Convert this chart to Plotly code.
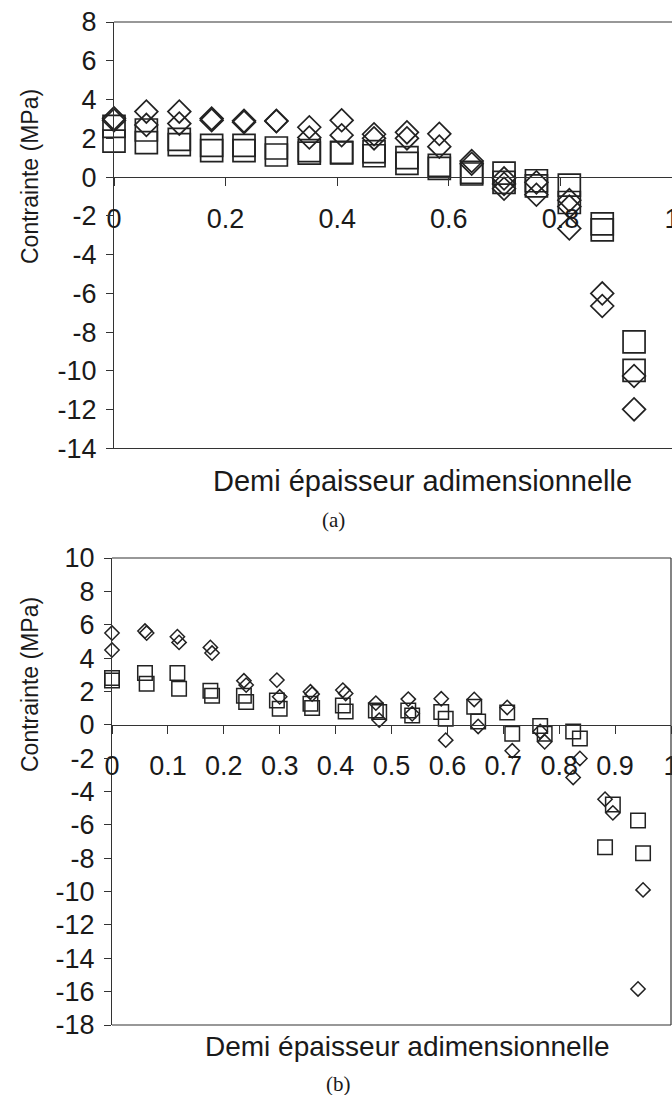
import plotly.graph_objects as go

# ---------------- data : (a) ----------------
x_a = [0, 0.058, 0.117, 0.175, 0.233, 0.291, 0.350, 0.408, 0.466, 0.525,
       0.583, 0.641, 0.699, 0.757, 0.816, 0.875, 0.932]
sq_a1 = [2.62, 2.43, 1.95, 1.64, 1.64, 1.50, 1.37, 1.28, 1.31, 1.00,
         0.60, 0.24, 0.20, -0.19, -0.41, -2.41, -8.50]
sq_a2 = [1.86, 1.78, 1.67, 1.37, 1.37, 1.14, 1.24, 1.25, 1.10, 0.71,
         0.45, 0.16, -0.27, -0.45, -1.31, -2.72, -9.97]
dm_a1 = [3.03, 3.38, 3.38, 3.02, 2.90, 2.90, 2.57, 2.93, 2.21, 2.31,
         2.23, 0.83, -0.07, -0.27, -1.19, -6.00, -10.26]
dm_a2 = [2.93, 2.69, 2.76, 2.93, 2.83, 2.88, 2.04, 2.16, 2.00, 2.00,
         1.57, 0.69, -0.60, -0.91, -2.65, -6.65, -11.98]
dm_a3 = [None, None, None, None, None, None, None, None, None, None,
         None, None, -0.35, None, -1.52, None, None]

# ---------------- data : (b) ----------------
x_b1 = [0, 0.059, 0.117, 0.176, 0.236, 0.295, 0.355, 0.413, 0.472, 0.530,
        0.589, 0.648, 0.707, 0.766, 0.825, 0.882, 0.941]
x_b2 = [0, 0.062, 0.120, 0.179, 0.240, 0.300, 0.358, 0.418, 0.478, 0.537,
        0.597, 0.655, 0.716, 0.774, 0.837, 0.896, 0.950]
sq_b1 = [2.80, 3.10, 3.10, 2.04, 1.74, 1.46, 1.26, 1.16, 0.86, 0.86,
         0.76, 1.08, 0.74, -0.08, -0.40, -7.34, -5.74]
sq_b2 = [2.66, 2.46, 2.16, 1.74, 1.36, 0.96, 1.00, 0.80, 0.76, 0.56,
         0.36, 0.20, -0.54, -0.54, -0.82, -4.78, -7.70]
dm_b1 = [5.50, 5.62, 5.28, 4.64, 2.64, 2.68, 1.98, 2.08, 1.30, 1.54,
         1.56, 1.52, 1.04, -0.40, -3.16, -4.46, -15.84]
dm_b2 = [4.48, 5.50, 4.94, 4.30, 2.38, 1.68, 1.84, 1.88, 0.28, 0.66,
         -0.92, -0.10, -1.56, -1.02, -2.02, -5.28, -9.90]

# ---------------- ticks / labels ----------------
ytick_a = [8, 6, 4, 2, 0, -2, -4, -6, -8, -10, -12, -14]
ytick_b = [10, 8, 6, 4, 2, 0, -2, -4, -6, -8, -10, -12, -14, -16, -18]
xtick_a = [0, 0.2, 0.4, 0.6, 0.8, 1]
xtick_b = [0, 0.1, 0.2, 0.3, 0.4, 0.5, 0.6, 0.7, 0.8, 0.9, 1]
ylabel = "Contrainte (MPa)"
xlabel = "Demi épaisseur adimensionnelle"
captions = ["(a)", "(b)"]

W, H = 672, 1095
INK = "#222222"
AX = "#333333"
SANS = "Liberation Sans, Arial, sans-serif"
SERIF = "Liberation Serif, DejaVu Serif, serif"


def py(px):
    return (H - px) / H


def fmt(v):
    return "%g" % v


fig = go.Figure()


def add(x, y, sym, size, lw, xa, ya):
    fig.add_trace(go.Scatter(
        x=x, y=y, mode="markers", xaxis=xa, yaxis=ya, showlegend=False,
        cliponaxis=False,
        marker=dict(symbol=sym, size=size, color=INK, line=dict(width=lw, color=INK)),
    ))


add(x_a, sq_a1, "square-open", 22, 1.7, "x", "y")
add(x_a, sq_a2, "square-open", 22, 1.7, "x", "y")
add(x_a, dm_a1, "diamond-open", 17.5, 1.7, "x", "y")
add(x_a, dm_a2, "diamond-open", 17.5, 1.7, "x", "y")
add(x_a, dm_a3, "diamond-open", 17.5, 1.7, "x", "y")

add(x_b1, sq_b1, "square-open", 14.5, 1.5, "x2", "y2")
add(x_b2, sq_b2, "square-open", 14.5, 1.5, "x2", "y2")
add(x_b1, dm_b1, "diamond-open", 11, 1.5, "x2", "y2")
add(x_b2, dm_b2, "diamond-open", 11, 1.5, "x2", "y2")

# geometry (pixels)
A_top, A_bot = 22, 448.5
B_top, B_bot = 558, 1025
A_zero = A_top + 8 * (A_bot - A_top) / 22
B_zero = B_top + 10 * (B_bot - B_top) / 28

tickfont = dict(family=SANS, size=27, color="#1a1a1a")

common_x = dict(range=[0, 1], showgrid=False, zeroline=False, showline=True,
                linecolor=AX, linewidth=1.2, ticks="outside", ticklen=8,
                tickcolor=AX, tickwidth=1.2, tickfont=tickfont, anchor="free",
                ticklabelstandoff=9, automargin=False, ticklabeloverflow="allow")
common_y = dict(showgrid=False, zeroline=False, showline=True, linecolor=AX,
                linewidth=1.2, ticks="outside", ticklen=7, tickcolor=AX,
                tickwidth=1.2, tickfont=tickfont, automargin=False,
                ticklabelstandoff=4, ticklabeloverflow="allow")

fig.update_layout(
    template="none",
    width=W, height=H, margin=dict(l=0, r=0, t=0, b=0, pad=0),
    paper_bgcolor="white", plot_bgcolor="white",
    xaxis=dict(common_x, domain=[114 / W, 1.0], position=py(A_zero),
               tickvals=xtick_a, ticktext=[fmt(v) for v in xtick_a]),
    yaxis=dict(common_y, domain=[py(A_bot), py(A_top)], range=[-14, 8], anchor="x",
               tickvals=ytick_a, ticktext=[fmt(v) for v in ytick_a]),
    xaxis2=dict(common_x, domain=[112 / W, 671 / W], position=py(B_zero),
                tickvals=xtick_b, ticktext=[fmt(v) for v in xtick_b]),
    yaxis2=dict(common_y, domain=[py(B_bot), py(B_top)], range=[-18, 10], anchor="x2",
                tickvals=ytick_b, ticktext=[fmt(v) for v in ytick_b]),
)

# frame lines
line = dict(color=AX, width=1.2)
fig.add_shape(type="line", xref="x domain", yref="y domain", x0=0, x1=1, y0=1, y1=1, line=line)
fig.add_shape(type="line", xref="x domain", yref="y domain", x0=0, x1=1, y0=0, y1=0, line=line)
fig.add_shape(type="line", xref="x2 domain", yref="y2 domain", x0=0, x1=1, y0=1, y1=1, line=line)
fig.add_shape(type="line", xref="x2 domain", yref="y2 domain", x0=0, x1=1, y0=0, y1=0, line=line)
fig.add_shape(type="line", xref="x2 domain", yref="y2 domain", x0=1, x1=1, y0=0, y1=1, line=line)


def ann(text, xpx, ypx, size, family=SANS, angle=0):
    fig.add_annotation(text=text, x=xpx / W, y=py(ypx), xref="paper", yref="paper",
                       showarrow=False, textangle=angle, xanchor="center", yanchor="middle",
                       font=dict(family=family, size=size, color="#1a1a1a"))


ann(ylabel, 30, 177, 23, angle=-90)
ann(ylabel, 30, 685, 23, angle=-90)
ann(xlabel, 422, 481, 29)
ann(xlabel, 408, 1046, 28)
ann(captions[0], 333, 520, 21, family=SERIF)
ann(captions[1], 338, 1084, 21, family=SERIF)

fig.write_html("out.html")
